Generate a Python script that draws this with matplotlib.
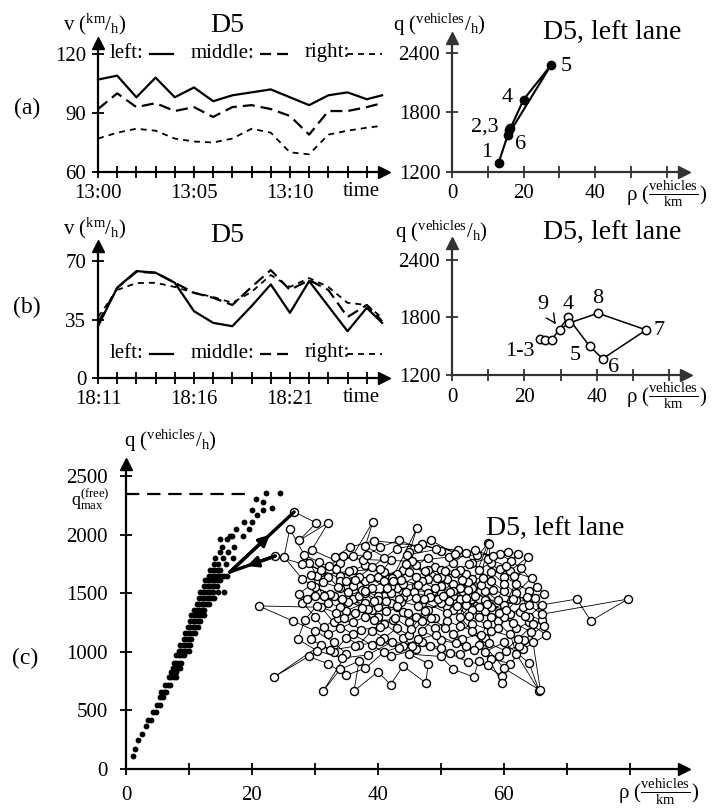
import matplotlib.pyplot as plt
from matplotlib.lines import Line2D

plt.rcParams['font.family'] = ['Liberation Serif', 'DejaVu Serif']
plt.rcParams['mathtext.fontset'] = 'custom'
plt.rcParams['mathtext.rm'] = 'Liberation Serif'
plt.rcParams['mathtext.it'] = 'Liberation Serif:italic'

# ---- data -------------------------------------------------------------
# (a) speeds at D5, minutes after 13:00
t_a = [0, 1, 2, 3, 4, 5, 6, 7, 8, 9, 10, 11, 12, 13, 14, 14.8]
left_a = [107, 109, 98, 108, 98, 103, 96, 99, 100.5, 102, 98, 94, 99, 100.5, 97, 99]
middle_a = [92, 100, 93, 95, 91, 93, 88, 93, 94, 92, 88.5, 79, 91, 91, 93, 95]
right_a = [77, 80, 82, 81, 77, 75.5, 75, 77, 82, 80, 70, 69, 79, 81, 82.5, 83.5]
ticks_a = ['13:00', '', '', '', '', '13:05', '', '', '', '', '13:10', '', '', '', '']

# (b) speeds at D5, minutes after 18:11
t_b = [0, 1, 2, 3, 4, 5, 6, 7, 8, 9, 10, 11, 12, 13, 14, 14.8]
left_b = [31, 54, 64, 63, 57, 40, 33, 31, 43, 56, 39, 58, 43, 28, 42, 33]
middle_b = [33, 54, 63.5, 63, 57, 51, 48, 43.7, 54.5, 64.6, 52.7, 58.6, 52.7, 36.5, 43.7, 34]
right_b = [36.5, 52.7, 56.8, 57, 54.5, 51, 48.5, 45, 51.5, 61.6, 54.5, 59.8, 54.5, 45, 43.7, 36]
ticks_b = ['18:11', '', '', '', '', '18:16', '', '', '', '', '18:21', '', '', '', '']

# (a) right: q-rho of the left lane, free traffic
rho_qa = [13, 16, 16.3, 20, 27.7, 15.7]
q_qa = [1290, 1620, 1640, 1930, 2280, 1575]
lab_qa = ['1', '2,3', '', '4', '5', '6']

# (b) right: q-rho of the left lane, congested
rho_qb = [24.4, 25.8, 27.5, 32, 38, 41.6, 53.6, 40.3, 32.2, 29.7]
q_qb = [1575, 1565, 1565, 1800, 1500, 1370, 1670, 1845, 1740, 1670]

# (c) free flow dots, rows of (q, densities)
ff_rows = [
    (110, [1.1]), (170, [1.5]), (250, [1.9]), (300, [2.6]), (370, [3.1]),
    (420, [3.5, 3.9]), (490, [4.3, 4.7]), (545, [5.0, 5.4]), (615, [5.4, 5.8]),
    (660, [5.6, 6.0, 6.4]), (715, [6.2, 6.6, 7.0]), (785, [6.8, 7.2, 7.6, 8.0]),
    (830, [7.2, 7.6, 8.0]), (860, [7.4, 7.8, 8.2, 8.6]), (905, [7.6, 8.0, 8.4, 8.8]),
    (970, [8.0, 8.4, 8.8, 9.2]), (1010, [8.4, 8.8, 9.2, 9.6, 10.0]),
    (1060, [8.6, 9.0, 9.4, 9.8, 10.2]), (1110, [9.2, 9.6, 10.0, 10.4]),
    (1160, [9.4, 9.8, 10.2, 10.6, 11.0]), (1210, [9.8, 10.2, 10.6, 11.0, 11.4]),
    (1260, [10.2, 10.6, 11.0, 11.4, 11.8]), (1310, [10.4, 10.8, 11.2, 11.6, 12.0, 12.4]),
    (1360, [10.8, 11.2, 11.6, 12.0, 12.4]), (1410, [11.2, 11.6, 12.0, 12.4, 12.8, 13.2]),
    (1460, [11.6, 12.0, 12.4, 12.8, 13.2, 13.6, 14.0]),
    (1510, [11.8, 12.2, 12.6, 13.0, 13.4, 13.8, 14.6, 15.6]),
    (1560, [12.4, 12.8, 13.2, 13.6, 14.0, 14.4]),
    (1610, [12.6, 13.0, 13.4, 13.8, 14.2, 14.6, 15.0]),
    (1650, [13.2, 13.6, 14.0, 14.4, 14.8, 15.2, 15.6, 16.0]),
    (1700, [13.4, 13.8, 14.2, 14.6, 15.0]), (1750, [14.0, 14.6, 15.8]),
    (1800, [14.1, 15.4, 17.0]), (1850, [15.0, 16.2]), (1890, [15.2, 17.1]),
    (1960, [14.9, 16.0]), (1990, [16.5, 16.9, 18.5]), (2050, [17.5, 19.6]),
    (2110, [18.7, 20.0]), (2170, [20.8]), (2210, [20.0, 21.7]), (2230, [23.2]),
    (2280, [21.7]), (2300, [20.6]), (2355, [22.2, 24.4]),
]
q_max_free = 2350

# (c) congested trajectory (rho, q), in time order
cong = [
    (26.7, 2193), (30.2, 2100), (27.5, 1950), (32.1, 2100), (29.5, 1870), (34, 1760),
    (31, 1680), (36, 1820), (39.2, 2108), (38, 1900), (42, 1780), (40, 1640), (44, 1700),
    (37, 1560), (41, 1480), (46.2, 2056), (45, 1850), (48, 1620), (43, 1540), (50, 1500),
    (47, 1420), (52, 1580), (49, 1720), (54, 1660), (51, 1380), (56, 1450), (53, 1300),
    (57.5, 1928), (55, 1760), (58, 1600), (60, 1520), (57, 1350), (62, 1442), (59, 1260),
    (63.8, 1809), (61, 1690), (64.4, 1630), (60, 1400), (65, 1459), (66, 1271),
    (62.5, 1340), (66.3, 1220), (63.2, 1100), (58, 1180), (55, 1240), (52, 1150),
    (54, 1050), (50, 1100), (47, 1180), (49, 1290), (45, 1250), (43, 1380), (40, 1300),
    (38, 1420), (35, 1350), (33, 1480), (30, 1550), (28, 1620), (25.1, 1809), (26, 2048),
    (29, 1760), (32, 1640), (34, 1540), (36, 1450), (39, 1360), (41, 1240), (44, 1120),
    (46, 1020), (42, 960), (39, 1060), (36, 1150), (33, 1250), (31, 1380), (21.1, 1391),
    (26.5, 1263), (30, 1180), (33, 1080), (35, 980), (31.3, 665), (34, 850), (37, 920),
    (36.2, 665), (40, 830), (42, 720), (44, 880), (47.6, 734), (48, 900), (45, 980),
    (50, 960), (52, 850), (55.2, 785), (56, 920), (59.7, 793), (59.7, 734), (57, 1000),
    (60, 1080), (64, 905), (65.6, 667), (62, 980), (61, 1150), (58, 1300), (56, 1380),
    (53, 1450), (55, 1540), (52, 1480), (50, 1560), (48, 1500), (46, 1560), (44, 1470),
    (42, 1560), (40, 1480), (38, 1600), (36, 1700), (34, 1650), (38, 1740), (41, 1680),
    (43, 1620), (45, 1680), (47, 1600), (49, 1540), (51, 1620), (53, 1540), (55, 1620),
    (57, 1520), (59, 1440), (57, 1440), (54, 1400), (52, 1360), (50, 1420), (48, 1360),
    (46, 1300), (44, 1340), (42, 1420), (40, 1380), (38, 1300), (36, 1250), (34, 1200),
    (32, 1150), (30, 1300), (28, 1420), (30, 1480), (32, 1420), (34, 1380), (37, 1480),
    (39, 1540), (41, 1600), (43, 1660), (46, 1740), (48, 1800), (50, 1700), (52, 1760),
    (54, 1840), (56, 1700), (58, 1760), (60, 1640), (62, 1580), (64, 1520), (63, 1380),
    (61, 1320), (59, 1200), (57, 1120), (55, 1180), (53, 1220), (51, 1260), (49, 1200),
    (47, 1260), (45, 1140), (43, 1200), (41, 1120), (39, 1180), (37, 1060), (35, 1120),
    (33, 1000), (31, 1060), (23.5, 785), (29, 960), (32, 900), (35, 800), (38, 860),
    (41, 1000), (44, 1050), (47, 1080), (50, 1030), (53, 980), (56, 1060), (58, 940),
    (61, 900), (63, 1020), (66.7, 1143), (64, 1250), (62, 1200), (60, 1300), (58, 1380),
    (56, 1300), (54, 1460), (52, 1520), (50, 1640), (48, 1700), (46, 1640), (44, 1580),
    (42, 1500), (40, 1440), (38, 1500), (36, 1560), (34, 1600), (37, 1640), (39, 1720),
    (41, 1800), (43, 1880), (47, 1920), (50, 1860), (53, 1700), (55, 1360), (57.6, 1920),
    (58, 1680), (60, 1580), (62, 1500), (64, 1400), (66, 1320), (79.7, 1450),
    (73.8, 1263), (71.6, 1450), (66, 1400), (64, 1300), (65.8, 670), (60, 860),
    (44.6, 1826), (49.3, 1873), (52.7, 1866), (39.4, 1948), (35.6, 1893), (33.2, 1811),
    (37.7, 1787), (45.4, 1772), (51.3, 1809), (55.8, 1826), (59.4, 1833), (61.2, 1771),
    (62.7, 1713), (65.3, 1553), (66.4, 1493), (63.6, 1468), (61.5, 1452), (58.3, 1531),
    (55.4, 1474), (52.6, 1388), (49.5, 1447), (46.3, 1393), (43.6, 1428), (41.3, 1352),
    (38.4, 1366), (35.3, 1427), (32.4, 1493), (29.3, 1567), (27.4, 1493), (28.7, 1447),
    (31.3, 1593), (33.6, 1553), (35.2, 1513), (37.5, 1373), (39.3, 1267), (42.4, 1273),
    (44.7, 1327), (48.4, 1287), (50.6, 1207), (53.4, 1113), (56.3, 1147), (57.6, 1073),
    (60.3, 1007), (62.4, 1053), (64.6, 1087), (64.3, 1173), (61.4, 1247), (59.3, 1333),
    (56.4, 1567), (54.3, 1593), (51.4, 1507), (48.3, 1467), (45.7, 1507), (43.3, 1453),
    (41.4, 1547), (38.7, 1627), (36.4, 1613), (33.3, 1707), (30.6, 1767), (28.3, 1827),
    (30.4, 1647), (35.4, 1687), (40.4, 1707), (42.3, 1633), (44.4, 1753), (47.4, 1693),
    (50.6, 1687), (53.3, 1613), (56.7, 1627), (59.4, 1707), (61.6, 1647), (60.4, 1733),
    (57.4, 1793), (54.4, 1753), (52.3, 1673), (49.4, 1627), (46.4, 1573), (43.7, 1613),
    (41.3, 1433), (36.4, 1327), (33.7, 1287), (31.4, 1213), (29.3, 1107), (32.4, 1013),
    (36.3, 1047), (40.4, 1093), (43.3, 1033), (46.4, 1107), (49.3, 1147), (52.4, 1073),
    (55.3, 1013), (57.3, 1233), (54.4, 1307), (51.3, 1433), (47.4, 1347), (45.3, 1193),
    (42.7, 1287), (40.4, 1213), (37.3, 1187), (34.6, 1287), (33.4, 1333), (30.3, 1393),
    (28.4, 1273), (27.3, 1107), (30.4, 1007), (34.3, 947), (38.4, 973), (42.3, 1087),
    (45.4, 1053), (48.3, 1047), (51.4, 987), (54.3, 913), (57.4, 887), (59.3, 967),
    (62.3, 1113), (64.7, 1233), (63.3, 1307), (60.4, 1353), (57.3, 1407), (54.3, 1527),
    (50.4, 1473), (47.3, 1453), (44.4, 1507), (42.4, 1607), (39.3, 1433), (37.4, 1527),
    (34.3, 1447), (31.4, 1473), (29.4, 1653), (32.3, 1733), (34.4, 1813), (38.3, 1827),
    (40.4, 1893), (43.4, 1953), (46.3, 1887), (48.4, 1953), (52.3, 1833), (55.4, 1867),
    (58.3, 1813), (60.6, 1853), (62.3, 1833), (51, 1330), (46, 1460), (43, 1390),
    (38, 1520), (35, 1600), (31, 1700), (28, 1750), (23.7, 1817),
]
# transitions free -> congested -> free
arrow_up = [(16.5, 1681), (26.7, 2193)]
arrow_back = [(23.7, 1817), (16.5, 1681)]

# ---- layout -----------------------------------------------------------
W, H = 718, 811
fig = plt.figure(figsize=(W / 100, H / 100), dpi=100)


def px(x, y):
    return x / W, 1 - y / H


def box(left, top, right, bottom):
    return [left / W, 1 - bottom / H, (right - left) / W, (bottom - top) / H]


def frame(ax, xlim, ylim, color='k', ypad=4.5, xpad=5):
    ax.set_xlim(*xlim)
    ax.set_ylim(*ylim)
    ax.patch.set_visible(False)
    for s in ('top', 'right'):
        ax.spines[s].set_visible(False)
    for s in ('left', 'bottom'):
        ax.spines[s].set_linewidth(1.6)
        ax.spines[s].set_color(color)
    ax.tick_params(direction='inout', length=8, width=1.3, color=color, labelsize=15)
    ax.tick_params(axis='y', pad=ypad)
    ax.tick_params(axis='x', pad=xpad)
    ax.plot(1, 0, '>', color=color, ms=9, transform=ax.transAxes, clip_on=False)
    ax.plot(0, 1, '^', color=color, ms=9, transform=ax.transAxes, clip_on=False)


def speeds(ax, t, left, middle, right):
    ax.plot(t, left, color='k', lw=1.6, clip_on=False)
    ax.plot(t, middle, color='k', lw=1.6, dashes=(5.4, 2.7), clip_on=False)
    ax.plot(t, right, color='k', lw=1.3, dashes=(3.3, 2.8), clip_on=False)


def legend(y):
    fig.text(*px(110, y), 'left:', fontsize=15, va='center')
    fig.text(*px(191, y), 'middle:', fontsize=15, va='center')
    fig.text(*px(305, y), 'right:', fontsize=15, va='center')
    yy = 1 - (y + 1) / H
    fig.add_artist(Line2D([150 / W, 173 / W], [yy, yy], color='k', lw=1.6))
    fig.add_artist(Line2D([260 / W, 288 / W], [yy, yy], color='k', lw=1.6,
                          dashes=(5.0, 2.7)))
    fig.add_artist(Line2D([347 / W, 382 / W], [yy, yy], color='k', lw=1.3,
                          dashes=(3.3, 2.8)))


v_label = r'v ($^{\mathrm{km}}/_{\mathrm{h}}$)'
q_label = r'q ($^{\mathrm{vehicles}}/_{\mathrm{h}}$)'
rho_label = 'ρ (' + r'$\frac{\mathrm{vehicles}}{\mathrm{km}}$' + ')'

# (a) left
axA = fig.add_axes(box(98, 43, 384, 172))
frame(axA, (0, 14.9), (60, 125.6))
speeds(axA, t_a, left_a, middle_a, right_a)
axA.set_xticks(range(15), ticks_a)
axA.set_yticks([60, 90, 120])
legend(53)
fig.text(*px(63, 24), v_label, fontsize=15, va='center')
fig.text(*px(227, 25), 'D5', fontsize=20, ha='center', va='center')
fig.text(*px(361, 192), 'time', fontsize=15, ha='center', va='center')
fig.text(*px(27, 108), '(a)', fontsize=17, ha='center', va='center')

# (a) right
axAr = fig.add_axes(box(452, 38, 684, 172))
frame(axAr, (0, 64.8), (1200, 2551), color='#333')
axAr.plot(rho_qa, q_qa, color='k', lw=1.5)
axAr.plot(rho_qa, q_qa, 'o', color='k', ms=6)
offs_a = [(-12, -11), (-24, -3), (0, 0), (-16, -2), (15, 2), (12, 10)]
for r, q, s, (dx, dy) in zip(rho_qa, q_qa, lab_qa, offs_a):
    axAr.annotate(s, (r, q), xytext=(dx * 0.72, -dy * 0.72), textcoords='offset points',
                  ha='center', va='center', fontsize=16)
axAr.set_xticks(range(0, 61, 10), ['0', '', '20', '', '40', '', ''])
axAr.set_yticks([1200, 1800, 2400])
fig.text(*px(393, 25), q_label, fontsize=15, va='center')
fig.text(*px(612, 32), 'D5, left lane', fontsize=20, ha='center', va='center')
fig.text(*px(626, 194), rho_label, fontsize=15, va='center')

# (b) left
axB = fig.add_axes(box(98, 246, 384, 378))
frame(axB, (0, 14.9), (0, 79))
speeds(axB, t_b, left_b, middle_b, right_b)
axB.set_xticks(range(15), ticks_b)
axB.set_yticks([0, 35, 70])
legend(353)
fig.text(*px(63, 228), v_label, fontsize=15, va='center')
fig.text(*px(227, 235), 'D5', fontsize=20, ha='center', va='center')
fig.text(*px(361, 398), 'time', fontsize=15, ha='center', va='center')
fig.text(*px(27, 307), '(b)', fontsize=17, ha='center', va='center')

# (b) right
axBr = fig.add_axes(box(452, 243, 686, 375))
frame(axBr, (0, 64.6), (1200, 2577), color='#333')
axBr.plot(rho_qb, q_qb, '-o', color='k', lw=1.1, ms=6, mfc='white', mew=1.1)
offs_b = {0: ('1-3', -21, 12), 3: ('4', 0, -13), 4: ('5', -14, 9), 5: ('6', 11, 9),
          6: ('7', 13, 1), 7: ('8', 0, -15)}
for i, (s, dx, dy) in offs_b.items():
    axBr.annotate(s, (rho_qb[i], q_qb[i]), xytext=(dx * 0.72, -dy * 0.72),
                  textcoords='offset points', ha='center', va='center', fontsize=16)
axBr.annotate('9', (rho_qb[9], q_qb[9]), xytext=(-12, 18), textcoords='offset points',
              ha='center', va='center', fontsize=16,
              arrowprops=dict(arrowstyle='->', lw=1, color='k', shrinkA=4, shrinkB=5))
axBr.set_xticks(range(0, 61, 10), ['0', '', '20', '', '40', '', ''])
axBr.set_yticks([1200, 1800, 2400])
fig.text(*px(395, 232), q_label, fontsize=15, va='center')
fig.text(*px(612, 232), 'D5, left lane', fontsize=20, ha='center', va='center')
fig.text(*px(626, 396), rho_label, fontsize=15, va='center')

# (c)
axC = fig.add_axes(box(126, 464, 684, 769))
frame(axC, (0, 88.6), (0, 2602), ypad=9, xpad=8)
ff_rho = [r for q, rs in ff_rows for r in rs]
ff_q = [q for q, rs in ff_rows for r in rs]
axC.plot(ff_rho, ff_q, 'o', color='k', ms=4.2, mew=0)
axC.plot([0, 20], [q_max_free, q_max_free], color='k', lw=1.6, dashes=(6, 3.5))
rho_c = [p[0] for p in cong]
q_c = [p[1] for p in cong]
axC.plot(rho_c, q_c, '-o', color='k', lw=0.6, ms=5.8, mfc='white', mew=1.0)
for seg in (arrow_up, arrow_back):
    (r0, q0), (r1, q1) = seg
    axC.plot([r0, r1], [q0, q1], color='k', lw=2.4, solid_capstyle='round')
    axC.annotate('', xy=(r0 + 0.62 * (r1 - r0), q0 + 0.62 * (q1 - q0)), xytext=(r0, q0),
                 arrowprops=dict(arrowstyle='-|>', lw=2.4, color='k', mutation_scale=16,
                                 shrinkA=0, shrinkB=0))
axC.set_xticks(range(0, 81, 10), ['0', '', '20', '', '40', '', '60', '', ''])
axC.set_yticks(range(0, 2501, 500))
fig.text(*px(124, 441), q_label, fontsize=15, va='center')
fig.text(*px(90, 499), r'$\mathrm{q}^{\mathrm{(free)}}_{\mathrm{max}}$', fontsize=13,
         ha='center', va='center')
fig.text(*px(555, 528), 'D5, left lane', fontsize=20, ha='center', va='center')
fig.text(*px(618, 792), rho_label, fontsize=15, va='center')
fig.text(*px(25, 658), '(c)', fontsize=17, ha='center', va='center')

fig.savefig('out.png', dpi=100)
